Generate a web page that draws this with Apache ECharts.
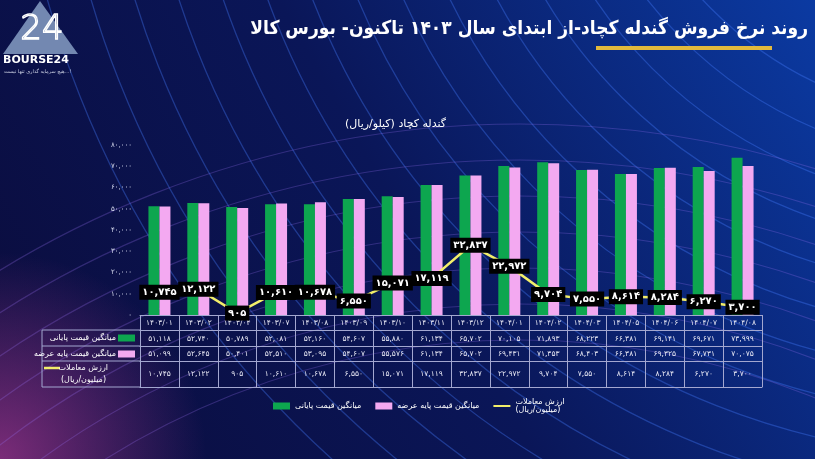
<!DOCTYPE html>
<html>
<head>
<meta charset="utf-8">
<script src="https://cdn.jsdelivr.net/npm/echarts@6/dist/echarts.min.js"></script>
<style>
  html, body { margin: 0; padding: 0; background: #0a1550; }
  #chart { width: 815px; height: 459px; }
</style>
</head>
<body>
<div id="chart"></div>
<script>
// data
const months = ['1403/01', '1403/02', '1403/04', '1403/07', '1403/08', '1403/09', '1403/10', '1403/11',
    '1403/12', '1404/01', '1404/02', '1404/03', '1404/05', '1404/06', '1404/07', '1404/08'];
const finalPrice = [51118, 52740, 50789, 52081, 52160, 54607, 55880, 61134,
    65702, 70105, 71893, 68223, 66381, 69141, 69671, 73999];
const basePrice = [51099, 52645, 50401, 52510, 53095, 54607, 55576, 61134,
    65702, 69431, 71353, 68403, 66381, 69325, 67731, 70075];
const tradeValue = [10745, 12122, 905, 10610, 10678, 6550, 15071, 17119,
    32837, 22972, 9704, 7550, 8614, 8284, 6270, 3700];
const yMin = 0, yMax = 80000, yStep = 10000;

const nameFinal = 'میانگین قیمت پایانی';
const nameBase = 'میانگین قیمت پایه عرضه';
const nameTrade = 'ارزش معاملات\n(میلیون/ریال)';

const FONT = 'DejaVu Sans';
const tableColor = '#a3a7d0';

function fa(s) {
    return String(s).replace(/\d/g, d => '۰۱۲۳۴۵۶۷۸۹'[d]);
}
function num(n) {
    return fa(n.toLocaleString('en-US'));
}

const chart = echarts.init(document.getElementById('chart'));

// table rows are drawn as extra category axes under the plot
function rowAxis(offset, tick, margin, fmt) {
    return {
        type: 'category',
        data: months,
        gridIndex: 0,
        position: 'bottom',
        offset: offset,
        axisLine: { show: true, lineStyle: { color: tableColor, width: 1 } },
        axisTick: { show: tick > 0, length: tick, interval: 0, lineStyle: { color: tableColor, width: 1 } },
        axisLabel: {
            show: !!fmt, interval: 0, margin: margin, color: '#e8e8f4',
            fontSize: 7.5, fontFamily: FONT,
            formatter: fmt ? (v, i) => fmt(i) : ''
        }
    };
}

// background arcs
const arcs = [];
for (let r = 380; r <= 1000; r += 42) {
    arcs.push({
        type: 'circle', silent: true, z: -5,
        shape: { cx: 980, cy: -260, r: r },
        style: { fill: 'none', stroke: 'rgba(70,125,255,0.36)', lineWidth: 1.3 }
    });
}
for (let r = 780; r <= 1000; r += 36) {
    arcs.push({
        type: 'circle', silent: true, z: -5,
        shape: { cx: 520, cy: 1120, r: r },
        style: { fill: 'none', stroke: 'rgba(150,110,240,0.28)', lineWidth: 1.2 }
    });
}

chart.setOption({
    backgroundColor: new echarts.graphic.LinearGradient(0, 1, 1, 0, [
        { offset: 0, color: '#0b0c3c' },
        { offset: 0.5, color: '#0a1658' },
        { offset: 1, color: '#0b3aa2' }
    ]),
    animation: false,
    textStyle: { fontFamily: FONT },
    graphic: [
        {
            type: 'rect', silent: true, z: -6,
            shape: { x: 0, y: 0, width: 815, height: 459 },
            style: {
                fill: new echarts.graphic.RadialGradient(0, 1, 0.45, [
                    { offset: 0, color: 'rgba(215,70,170,0.55)' },
                    { offset: 1, color: 'rgba(215,70,170,0)' }
                ])
            }
        },
        ...arcs,
        // logo
        {
            type: 'polygon', silent: true,
            shape: { points: [[40, 1], [3, 54], [78, 54]] },
            style: { fill: '#7388b1' }
        },
        {
            type: 'text', x: 42, y: 30,
            style: { text: '24', fill: 'none', stroke: '#ffffff', lineWidth: 1.4,
                font: '300 34px ' + FONT, align: 'center', verticalAlign: 'middle' }
        },
        {
            type: 'text', left: 3, top: 55,
            style: { text: 'BOURSE24', fill: '#ffffff', font: 'bold 11px ' + FONT }
        },
        {
            type: 'text', left: 4, top: 69,
            style: { text: 'هیچ سرمایه گذاری تنها نیست...!', fill: '#c8cde0', font: '5px ' + FONT }
        },
        // title
        {
            type: 'text', x: 808, y: 29,
            style: { text: 'روند نرخ فروش گندله کچاد-از ابتدای سال ۱۴۰۳ تاکنون- بورس کالا',
                fill: '#ffffff', font: 'bold 19px "DejaVu Sans Condensed", "DejaVu Sans"',
                align: 'right', verticalAlign: 'middle' }
        },
        {
            type: 'rect', silent: true,
            shape: { x: 596, y: 46, width: 176, height: 4 },
            style: { fill: '#e2b93c' }
        },
        {
            type: 'text', left: 345, top: 119,
            style: { text: 'گندله کچاد (کیلو/ریال)', fill: '#ffffff', font: '11px ' + FONT }
        },
        // left label column of the table
        {
            type: 'polyline', silent: true,
            shape: { points: [[140, 330], [42, 330], [42, 387], [140, 387]] },
            style: { stroke: tableColor, lineWidth: 1, fill: 'none' }
        },
        { type: 'line', silent: true, shape: { x1: 42, y1: 346, x2: 140, y2: 346 }, style: { stroke: tableColor, lineWidth: 1 } },
        { type: 'line', silent: true, shape: { x1: 42, y1: 361, x2: 140, y2: 361 }, style: { stroke: tableColor, lineWidth: 1 } },
        { type: 'rect', silent: true, shape: { x: 118, y: 334.5, width: 17, height: 7 }, style: { fill: '#0da64f' } },
        {
            type: 'text', x: 116, y: 338,
            style: { text: nameFinal, fill: '#ffffff', font: '8px ' + FONT, align: 'right', verticalAlign: 'middle' }
        },
        { type: 'rect', silent: true, shape: { x: 118, y: 350.5, width: 17, height: 7 }, style: { fill: '#f3a9f1' } },
        {
            type: 'text', x: 116, y: 354,
            style: { text: nameBase, fill: '#ffffff', font: '8px ' + FONT, align: 'right', verticalAlign: 'middle' }
        },
        { type: 'line', silent: true, shape: { x1: 44, y1: 368, x2: 60, y2: 368 }, style: { stroke: '#f2ee6a', lineWidth: 2.5 } },
        {
            type: 'text', x: 108, y: 368,
            style: { text: 'ارزش معاملات', fill: '#ffffff', font: '8px ' + FONT, align: 'right', verticalAlign: 'middle' }
        },
        {
            type: 'text', x: 106, y: 380,
            style: { text: '(میلیون/ریال)', fill: '#ffffff', font: '8px ' + FONT, align: 'right', verticalAlign: 'middle' }
        }
    ],
    legend: {
        left: 268, top: 393,
        itemWidth: 17, itemHeight: 7, itemGap: 14,
        textStyle: { color: '#ffffff', fontSize: 8, fontFamily: FONT },
        data: [
            { name: nameFinal, icon: 'rect' },
            { name: nameBase, icon: 'rect' },
            { name: nameTrade, icon: 'path://M0,0L20,0L20,2.4L0,2.4Z' }
        ]
    },
    grid: { left: 140, right: 53, top: 145, bottom: 144 },
    xAxis: [
        rowAxis(0, 15, 4, i => fa(months[i])),
        rowAxis(15, 16, 5, i => num(finalPrice[i])),
        rowAxis(31, 15, 4, i => num(basePrice[i])),
        rowAxis(46, 26, 9, i => num(tradeValue[i])),
        rowAxis(72, 0, 0, null)
    ],
    yAxis: {
        type: 'value', min: yMin, max: yMax, interval: yStep,
        axisLine: { show: false }, axisTick: { show: false }, splitLine: { show: false },
        axisLabel: { color: '#d8dcf0', fontSize: 7, margin: 8, formatter: v => num(v) }
    },
    series: [
        {
            name: nameFinal, type: 'bar', data: finalPrice, barWidth: 11, barGap: '0%',
            itemStyle: { color: '#0da64f' }
        },
        {
            name: nameBase, type: 'bar', data: basePrice, barWidth: 11,
            itemStyle: { color: '#f3a9f1' }
        },
        {
            name: nameTrade, type: 'line', data: tradeValue, z: 5,
            symbol: 'circle', symbolSize: 1,
            lineStyle: { color: '#f2ee6a', width: 2.5 },
            itemStyle: { color: '#f2ee6a' },
            label: {
                show: true, position: 'inside',
                backgroundColor: '#000000', color: '#ffffff',
                fontWeight: 'bold', fontSize: 10, fontFamily: FONT,
                padding: [3, 3, 2, 3],
                formatter: p => num(p.value)
            }
        }
    ]
});
</script>
</body>
</html>
